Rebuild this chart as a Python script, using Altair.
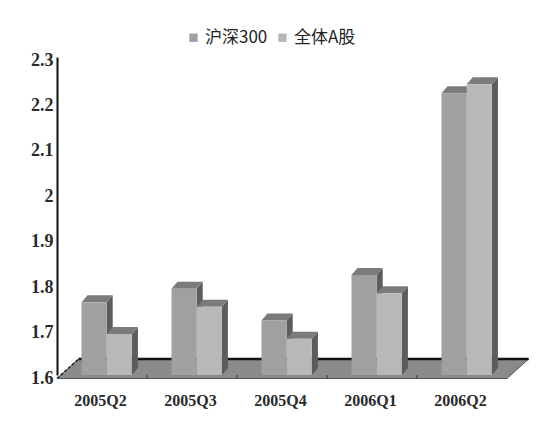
import altair as alt
import pandas as pd

categories = ["2005Q2", "2005Q3", "2005Q4", "2006Q1", "2006Q2"]
series_names = ["沪深300", "全体A股"]
hs300 = [1.76, 1.79, 1.72, 1.82, 2.22]
all_a = [1.69, 1.75, 1.68, 1.78, 2.24]
y_ticks = [1.6, 1.7, 1.8, 1.9, 2.0, 2.1, 2.2, 2.3]

Y_MIN, Y_MAX = 1.6, 2.3
N = len(categories)

# 3D styling parameters (in scale units)
BAR_W = 0.28
GROUP_SHIFT = 0.052
DX = 0.067
DY = 0.0154
FLOOR_FRONT = Y_MIN - 0.0077
FLOOR_BACK = Y_MIN + 0.0352
FLOOR_DX = 0.24

front_rows, side_rows, top_rows = [], [], []
for i, cat in enumerate(categories):
    center = i + 0.5 + GROUP_SHIFT
    for s, vals in enumerate([hs300, all_a]):
        v = vals[i]
        x0 = center - BAR_W + s * BAR_W
        x1 = x0 + BAR_W
        bid = f"{cat}-{s}"
        front_rows.append({"x": x0, "x2": x1, "y": Y_MIN, "y2": v,
                           "series": series_names[s], "order": s})
        side_rows.append({"x": x1, "y": Y_MIN, "y2": v, "id": bid})
        side_rows.append({"x": x1 + DX, "y": Y_MIN + DY, "y2": v + DY, "id": bid})
        top_rows.append({"y": v, "x": x0, "x2": x1, "id": bid})
        top_rows.append({"y": v + DY, "x": x0 + DX, "x2": x1 + DX, "id": bid})

front_df = pd.DataFrame(front_rows)
side_df = pd.DataFrame(side_rows)
top_df = pd.DataFrame(top_rows)
floor_df = pd.DataFrame([
    {"y": FLOOR_FRONT, "x": 0, "x2": N},
    {"y": FLOOR_BACK, "x": FLOOR_DX, "x2": N + FLOOR_DX},
])
back_line_df = pd.DataFrame([{"x": FLOOR_DX, "x2": N + FLOOR_DX, "y": FLOOR_BACK}])
left_edge_df = pd.DataFrame([{"x": 0, "x2": FLOOR_DX, "y": FLOOR_FRONT, "y2": FLOOR_BACK}])
tick_df = pd.DataFrame([{"x": k, "y": FLOOR_FRONT, "y2": Y_MIN} for k in range(1, N)])

xs = alt.Scale(domain=[0, N], nice=False, zero=False)
ys = alt.Scale(domain=[Y_MIN, Y_MAX], nice=False, zero=False)

label_expr = "[" + ",".join(f"'{c}'" for c in categories) + "][floor(datum.value)]"

x_axis = alt.Axis(values=[i + 0.5 for i in range(N)], labelExpr=label_expr,
                  domain=False, ticks=False, grid=False, title=None,
                  labelFont="Liberation Serif", labelFontSize=16,
                  labelFontWeight="bold", labelOffset=-2,
                  labelColor="#2a2a2a", labelPadding=17)
y_axis = alt.Axis(values=y_ticks, format="~g", domain=True, domainColor="#111",
                  domainWidth=2, ticks=False, grid=False, title=None,
                  labelFont="Liberation Serif", labelFontSize=18,
                  labelFontWeight="bold", labelOffset=3,
                  labelColor="#2a2a2a", labelPadding=4)

floor = alt.Chart(floor_df).mark_area(
    orient="horizontal", color="#8a8a8a", stroke="#555", strokeWidth=1
).encode(
    y=alt.Y("y:Q", scale=ys, axis=y_axis),
    x=alt.X("x:Q", scale=xs, axis=x_axis),
    x2="x2:Q",
)

back_line = alt.Chart(back_line_df).mark_rule(color="#111", strokeWidth=2.5).encode(
    x=alt.X("x:Q", scale=xs), x2="x2:Q", y=alt.Y("y:Q", scale=ys)
)

left_edge = alt.Chart(left_edge_df).mark_rule(
    color="#222", strokeWidth=1.5, strokeDash=[3, 2]
).encode(
    x=alt.X("x:Q", scale=xs), x2="x2:Q", y=alt.Y("y:Q", scale=ys), y2="y2:Q"
)

ticks = alt.Chart(tick_df).mark_rule(color="#333", strokeWidth=1).encode(
    x=alt.X("x:Q", scale=xs), y=alt.Y("y:Q", scale=ys), y2="y2:Q"
)

sides = alt.Chart(side_df).mark_area(color="#5c5c5c").encode(
    x=alt.X("x:Q", scale=xs), y=alt.Y("y:Q", scale=ys), y2="y2:Q", detail="id:N"
)

tops = alt.Chart(top_df).mark_area(orient="horizontal", color="#7b7b7b").encode(
    y=alt.Y("y:Q", scale=ys), x=alt.X("x:Q", scale=xs), x2="x2:Q", detail="id:N"
)

fronts = alt.Chart(front_df).mark_rect().encode(
    x=alt.X("x:Q", scale=xs), x2="x2:Q",
    y=alt.Y("y:Q", scale=ys), y2="y2:Q",
    color=alt.Color(
        "series:N",
        scale=alt.Scale(domain=series_names, range=["#a0a0a0", "#b8b8b8"]),
        legend=alt.Legend(
            title=None, orient="none", direction="horizontal",
            legendX=128, legendY=-28, symbolType="square", symbolSize=70,
            symbolStrokeWidth=0, labelFont="Noto Sans CJK SC", labelFontSize=17,
            labelColor="#222", columnPadding=6, labelOffset=3, padding=0,
        ),
    ),
)

chart = alt.layer(floor, back_line, left_edge, ticks, sides, tops, fronts).properties(
    width=450, height=318,
    autosize=alt.AutoSizeParams(type="none"),
    padding={"left": 57, "top": 57, "right": 41, "bottom": 47},
    background="white",
).configure_view(stroke=None)

chart.save("out.html", embed_options={"renderer": "svg", "actions": False})
